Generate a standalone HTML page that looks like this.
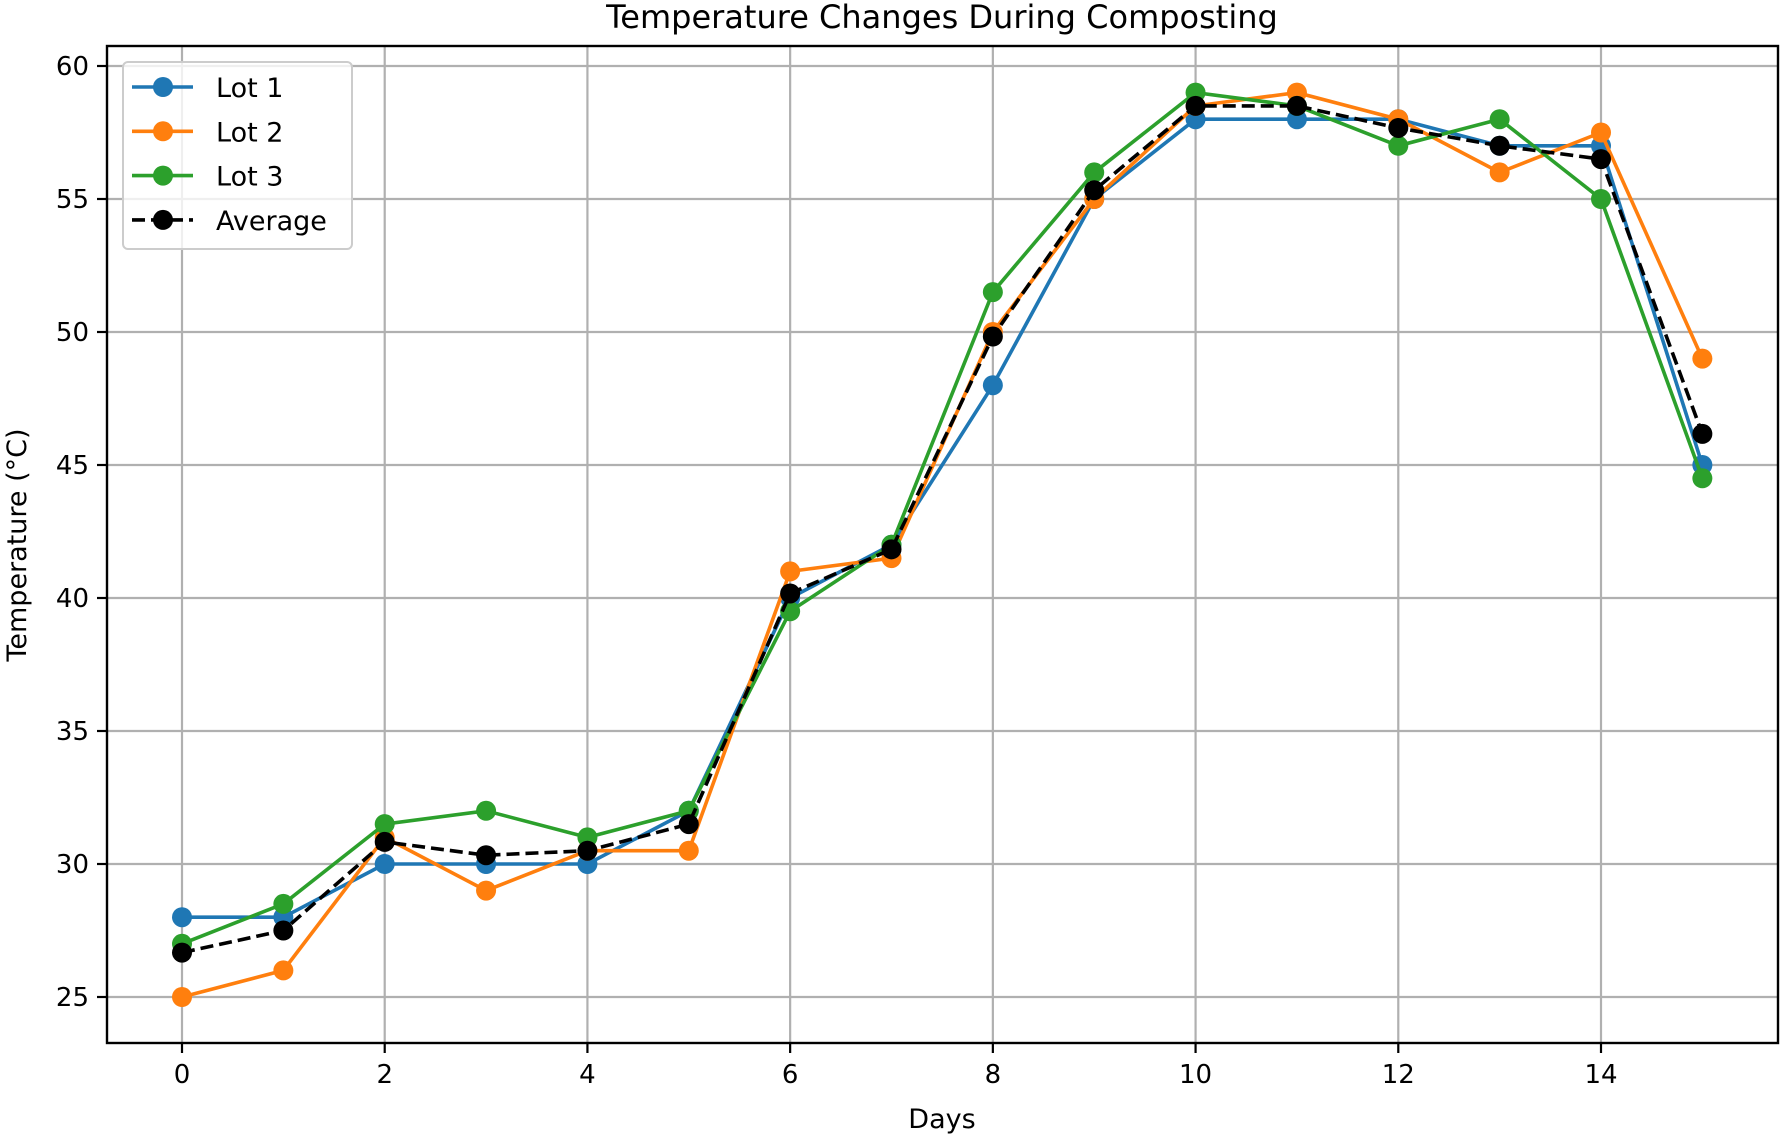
<!DOCTYPE html>
<html><head><meta charset="utf-8"><style>
body{margin:0;background:#fff;}
svg{display:block;font-family:"DejaVu Sans","Liberation Sans",sans-serif;}
</style></head><body>
<svg id="chart" width="1784" height="1137" viewBox="0 0 1784 1137">
<text x="942" y="28" font-size="32" text-anchor="middle">Temperature Changes During Composting</text>
<g id="grid"></g>
<g id="series"></g>
<rect x="107" y="46" width="1671" height="997" fill="none" stroke="#000" stroke-width="2.4"/>
<g id="ticks"></g>
<text x="942" y="1128" font-size="27" text-anchor="middle">Days</text>
<text transform="translate(26,545) rotate(-90)" font-size="27" text-anchor="middle">Temperature (°C)</text>
<g id="legend"></g>
</svg>
<script>
const days=[0,1,2,3,4,5,6,7,8,9,10,11,12,13,14,15];
const lot1=[28,28,30,30,30,32,40,42,48,55,58,58,58,57,57,45];
const lot2=[25,26,31,29,30.5,30.5,41,41.5,50,55,58.5,59,58,56,57.5,49];
const lot3=[27,28.5,31.5,32,31,32,39.5,42,51.5,56,59,58.5,57,58,55,44.5];
const avg=[26.67,27.5,30.83,30.33,30.5,31.5,40.17,41.83,49.83,55.33,58.5,58.5,57.67,57,56.5,46.17];
const xTicks=[0,2,4,6,8,10,12,14];
const yTicks=[25,30,35,40,45,50,55,60];
const names=["Lot 1","Lot 2","Lot 3","Average"];
const NS="http://www.w3.org/2000/svg";
const X=d=>182+d*(1601-182)/14;
const Y=v=>997-(v-25)*(997-66)/35;
function mk(t,a,p){const e=document.createElementNS(NS,t);for(const k in a)e.setAttribute(k,a[k]);p.appendChild(e);return e;}
const grid=document.getElementById('grid'),ticks=document.getElementById('ticks'),ser=document.getElementById('series'),leg=document.getElementById('legend');
xTicks.forEach(t=>{
 const g=mk('line',{x1:X(t),x2:X(t),y1:46,y2:1043,stroke:'#b0b0b0','stroke-width':2.2},grid);
 
 
 mk('line',{x1:X(t),x2:X(t),y1:1043,y2:1053,stroke:'#000','stroke-width':2.2},ticks);
 const l=mk('text',{x:X(t),y:1083,'font-size':26,'text-anchor':'middle'},ticks);l.textContent=t;
 
 
});
yTicks.forEach(t=>{
 const g=mk('line',{x1:107,x2:1778,y1:Y(t),y2:Y(t),stroke:'#b0b0b0','stroke-width':2.2},grid);
 
 
 mk('line',{x1:97,x2:107,y1:Y(t),y2:Y(t),stroke:'#000','stroke-width':2.2},ticks);
 const l=mk('text',{x:89,y:Y(t)+9,'font-size':26,'text-anchor':'end'},ticks);l.textContent=t;
 
 
});
const all=[lot1,lot2,lot3,avg],cols=['#1f77b4','#ff7f0e','#2ca02c','#000'],ids=['lot-1','lot-2','lot-3','average'];
all.forEach((s,i)=>{
 const g=mk('g',{},ser);
 
 
 const pts=s.map((v,j)=>X(days[j])+','+Y(v)).join(' ');
 const pl=mk('polyline',{points:pts,fill:'none',stroke:cols[i],'stroke-width':3.6},g);
 if(i==3)pl.setAttribute('stroke-dasharray','13,6');
 s.forEach((v,j)=>{const c=mk('circle',{cx:X(days[j]),cy:Y(v),r:10,fill:cols[i]},g);
  
  });
});
mk('rect',{x:123,y:62,width:229,height:187,rx:5,fill:'#fff','fill-opacity':0.8,stroke:'#ccc','stroke-width':2},leg);
names.forEach((n,i)=>{
 const y=87+i*44.3;
 const e=mk('g',{},leg);
 
 
 const ln=mk('line',{x1:132,x2:193,y1:y,y2:y,stroke:cols[i],'stroke-width':3.6},e);
 if(i==3)ln.setAttribute('stroke-dasharray','13,6');
 mk('circle',{cx:163,cy:y,r:10,fill:cols[i]},e);
 const t=mk('text',{x:216,y:y+10,'font-size':27},e);t.textContent=n;
});
</script>
</body></html>
